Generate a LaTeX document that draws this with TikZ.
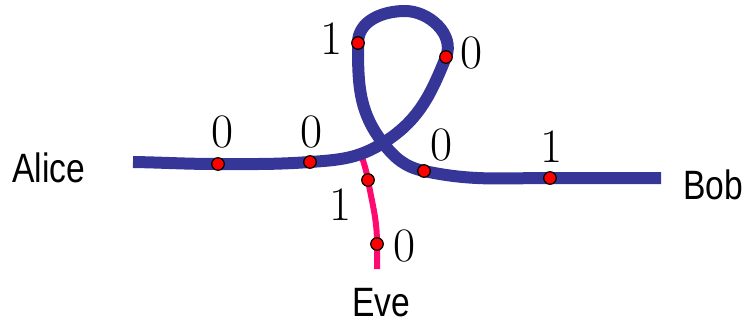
\documentclass[tikz,border=0pt]{standalone}
\usepackage{fontspec}
\newfontfamily\namefont[FakeStretch=0.82]{Liberation Sans}
\definecolor{fiber}{RGB}{54,54,153}
\definecolor{tap}{RGB}{255,10,110}

\begin{document}
\begin{tikzpicture}[x=1pt, y=1pt,
    bitdot/.style={circle, draw=black, fill=red, line width=1.2pt, minimum size=12.5pt, inner sep=0pt},
    bit/.style={font=\fontsize{48}{56}\selectfont, inner sep=0pt},
    party/.style={font=\namefont\fontsize{41}{48}\selectfont, inner sep=0pt}]
    \useasboundingbox (0,0) rectangle (749,-326);
    % points along the fibre
    \coordinate (astart) at (133,-162);
    \coordinate (p1) at (218,-164);
    \coordinate (p2) at (310,-162);
    \coordinate (cross) at (383,-143);
    \coordinate (p4) at (446,-57);
    \coordinate (top) at (405,-11);
    \coordinate (p3) at (358,-43);
    \coordinate (p5) at (424,-171);
    \coordinate (p6) at (550,-178);
    \coordinate (bend) at (661,-178);
    % Eve's tap
    \coordinate (etap) at (360,-150);
    \coordinate (q1) at (368,-180);
    \coordinate (q2) at (377,-244);
    \coordinate (eend) at (377,-269);
    \draw[tap, line width=6pt] (etap) to[out=-75,in=100] (q1) to[out=-80,in=90] (q2) -- (eend);
    \draw[fiber, line width=12pt] (astart) to[out=-1,in=180] (p1) to[out=0,in=184] (p2)
        to[out=4,in=212] (cross) to[out=32,in=248] (p4) to[out=68,in=0] (top)
        to[out=180,in=90] (p3) to[out=-90,in=128] (cross) to[out=-52,in=168] (p5)
        to[out=-12,in=180] (p6) -- (bend);
    \node[bitdot] (b1) at (p1) {};
    \node[bitdot] (b2) at (p2) {};
    \node[bitdot] (b3) at (p3) {};
    \node[bitdot] (b4) at (p4) {};
    \node[bitdot] (b5) at (p5) {};
    \node[bitdot] (b6) at (p6) {};
    \node[bitdot] (e1) at (q1) {};
    \node[bitdot] (e2) at (q2) {};
    % bit values
    \node[bit] (v1) at (223,-132) {0};
    \node[bit] (v2) at (312,-132) {0};
    \node[bit] (v3) at (332,-39) {1};
    \node[bit] (v4) at (472,-53) {0};
    \node[bit] (v5) at (442,-145) {0};
    \node[bit] (v6) at (552,-147) {1};
    \node[bit] (w1) at (341,-205) {1};
    \node[bit] (w2) at (405,-246) {0};
    % parties
    \node[party] (alice) at (49,-168) {Alice};
    \node[party] (bob) at (713,-185) {Bob};
    \node[party] (eve) at (381,-303) {Eve};
\end{tikzpicture}
\end{document}
